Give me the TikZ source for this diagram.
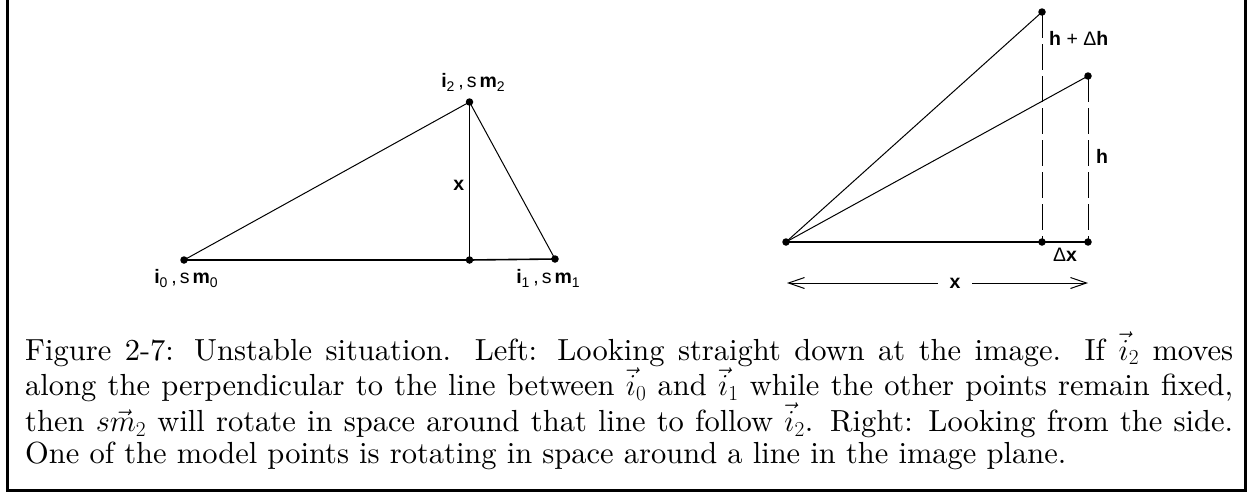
\documentclass[tikz,border=0pt]{standalone}
\usepackage{fix-cm}
\usepackage{fontspec}
\usetikzlibrary{arrows.meta}
\newfontfamily\hv{Liberation Sans}
\newfontfamily\capfont{lmroman10-regular.otf}[ItalicFont=lmroman10-italic.otf]
\newcommand{\lbsub}[1]{\raisebox{-4pt}{\fontsize{14}{14}\selectfont #1}}
\newcommand{\ptlab}[2]{{\bfseries #1}\lbsub{#2}\hspace{4pt},\hspace{3pt}s\hspace{3pt}{\bfseries m}\lbsub{#2}}
\tikzset{
  dot/.style={circle,fill=black,inner sep=0pt,minimum size=7.5pt},
  lab/.style={font=\hv\fontsize{19.5}{22}\selectfont, inner sep=0pt},
  edgeline/.style={line width=1pt},
  baseline2/.style={line width=1.6pt},
  dashline/.style={line width=1pt, dash pattern=on 26pt off 6pt},
  dimarrow/.style={line width=1pt, -{Straight Barb[length=16pt,width=11pt,line width=1pt]}},
  framestyle/.style={line width=3pt, line join=miter}
}
\begin{document}
\begin{tikzpicture}[x=1pt,y=-1pt]
\useasboundingbox (0,0) rectangle (1251,493);
% frame (open at top)
\draw[framestyle] (7.5,0) -- (7.5,490) -- (1245,490) -- (1245,0);

% ---- left figure ----
\node[dot] (i0) at (184,260) {};
\node[dot] (f)  at (469.5,260) {};
\node[dot] (i1) at (555,259) {};
\node[dot] (i2) at (469.5,102) {};
\draw[baseline2] (i0.center) -- (f.center) -- (i1.center);
\draw[edgeline] (i0.center) -- (i2.center) -- (i1.center);
\draw[edgeline] (i2.center) -- (f.center);
\path (i2) -- (f) node[lab, pos=0.53, left=5pt] (xlab) {\bfseries x};
\node[lab, anchor=base] (l0) at (186,283) {\ptlab{i}{0}};
\node[lab, anchor=base] (l1) at (548,283) {\ptlab{i}{1}};
\node[lab, anchor=base] (l2) at (473,87) {\ptlab{i}{2}};

% ---- right figure ----
\node[dot] (o)  at (786,242) {};
\node[dot] (a)  at (1042,12) {};
\node[dot] (b)  at (1088,76) {};
\node[dot] (fa) at (1042,242) {};
\node[dot] (fb) at (1088,242) {};
\draw[edgeline] (o.center) -- (a.center);
\draw[edgeline] (o.center) -- (b.center);
\draw[baseline2] (o.center) -- (fa.center) -- (fb.center);
\draw[dashline] (a.center) -- (fa.center);
\draw[dashline] (b.center) -- (fb.center);
\node[lab, anchor=base west] (hdh) at (1049,45) {{\bfseries h} + Δ{\bfseries h}};
\node[lab, anchor=base west] (h) at (1096,163) {\bfseries h};
\node[lab, anchor=base] (dx) at (1065,261) {Δ{\bfseries x}};
\coordinate (L) at (787,283);
\coordinate (R) at (1088,283);
\node[lab, minimum width=34pt] (X) at (955,283) {\bfseries x};
\draw[dimarrow] (X) -- (L);
\draw[dimarrow] (X) -- (R);

% ---- caption ----
\node[anchor=base west, inner sep=0pt] (cap) at (25,360) {\parbox[t]{1208pt}{\capfont\fontsize{30.5}{32}\selectfont
Figure 2-7: Unstable situation. Left: Looking straight down at the image. If $\vec{i}_2$ moves\linebreak
along the perpendicular to the line between $\vec{i}_0$ and $\vec{i}_1$ while the other points remain fixed,\linebreak
then $s\vec{m}_2$ will rotate in space around that line to follow $\vec{i}_2$. Right: Looking from the side.\linebreak
One of the model points is rotating in space around a line in the image plane.}};
\end{tikzpicture}
\end{document}
